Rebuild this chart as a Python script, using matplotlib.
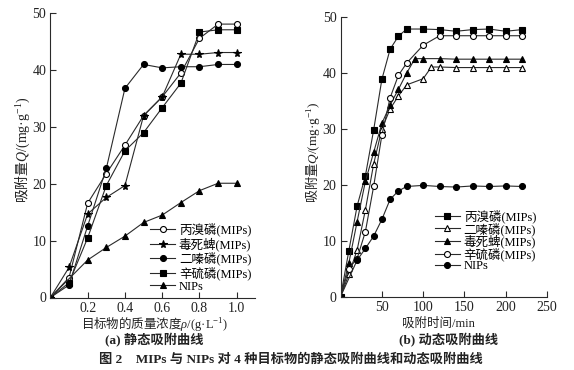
import numpy as np
import matplotlib
matplotlib.use("Agg")
import matplotlib.pyplot as plt

#-----------------------------------------------------------------------------
'''data (read from the figure)'''

# (a) static adsorption, x = mass concentration g/L
rho = [0, 0.1, 0.2, 0.3, 0.4, 0.5, 0.6, 0.7, 0.8, 0.9, 1.0]
q_profenofos_s = [0, 3.5, 16.6, 21.8, 26.8, 32.0, 35.3, 39.5, 45.6, 48.1, 48.1]
q_chlorpyrifos_s = [0, 5.3, 14.7, 17.6, 19.7, 32.0, 35.3, 42.8, 42.8, 43.1, 43.1]
q_diazinon_s = [0, 2.2, 12.6, 22.7, 36.8, 41.0, 40.4, 40.6, 40.6, 41.0, 41.0]
q_phoxim_s = [0, 2.6, 10.5, 19.7, 25.8, 29.0, 33.4, 37.7, 46.7, 47.1, 47.1]
rho_nips = [0, 0.2, 0.3, 0.4, 0.5, 0.6, 0.7, 0.8, 0.9, 1.0]
q_nips_s = [0, 6.6, 8.8, 10.8, 13.2, 14.5, 16.7, 18.8, 20.1, 20.1]

# (b) dynamic adsorption, x = time min
t_profenofos = [0, 10, 20, 30, 40, 50, 60, 70, 80, 100, 120, 140, 160, 180, 200, 220]
q_profenofos_d = [0, 8.2, 16.2, 21.6, 29.8, 38.9, 44.3, 46.6, 47.9, 47.9, 47.8, 47.5, 47.8, 47.9, 47.5, 47.8]
t_diazinon = [0, 10, 20, 30, 40, 50, 60, 70, 80, 100, 110, 120, 140, 160, 180, 200, 220]
q_diazinon_d = [0, 4.0, 8.3, 15.5, 23.7, 30.0, 33.6, 35.9, 37.9, 39.0, 41.1, 41.1, 41.0, 41.0, 41.0, 41.0, 41.0]
t_chlorpyrifos = [0, 10, 20, 30, 40, 50, 60, 70, 80, 90, 100, 120, 140, 160, 180, 200, 220]
q_chlorpyrifos_d = [0, 6.0, 13.4, 20.6, 25.8, 31.0, 34.3, 37.1, 40.0, 42.6, 42.6, 42.6, 42.5, 42.5, 42.5, 42.5, 42.5]
t_phoxim = [0, 10, 20, 30, 40, 50, 60, 70, 80, 100, 120, 140, 160, 180, 200, 220]
q_phoxim_d = [0, 5.0, 6.8, 11.6, 19.7, 28.9, 35.6, 39.6, 41.8, 45.0, 46.7, 46.7, 46.7, 46.7, 46.7, 46.7]
t_nips = [0, 20, 30, 40, 50, 60, 70, 80, 100, 120, 140, 160, 180, 200, 220]
q_nips_d = [0, 6.5, 8.6, 10.8, 13.8, 17.4, 18.9, 19.7, 19.9, 19.7, 19.6, 19.8, 19.7, 19.8, 19.7]

names = ["丙溴磷(MIPs)", "毒死蜱(MIPs)", "二嗪磷(MIPs)", "辛硫磷(MIPs)", "NIPs"]

#-----------------------------------------------------------------------------

plt.rcParams['font.family'] = ['Liberation Serif', 'Noto Sans CJK SC']
plt.rcParams['mathtext.fontset'] = 'custom'
plt.rcParams['mathtext.rm'] = 'Noto Sans CJK SC'
plt.rcParams['mathtext.it'] = 'Liberation Serif:italic'
plt.rcParams['xtick.direction'] = 'in'
plt.rcParams['ytick.direction'] = 'in'

fig = plt.figure(figsize=(5.74, 3.70), dpi=100)
W, H = 574.0, 370.0

lc = "#2a2a2a"
tc = "#222222"
kw = dict(color=lc, linewidth=0.8, markersize=4.3, markeredgecolor="black", markeredgewidth=0.8)


def style_axes(ax):
    ax.spines['top'].set_visible(False)
    ax.spines['right'].set_visible(False)
    for s in ('left', 'bottom'):
        ax.spines[s].set_color(lc)
        ax.spines[s].set_linewidth(0.8)
    ax.tick_params(length=4, width=0.8, color=lc, labelsize=10, labelcolor=tc, pad=3)
    ax.set_ylim(0, 50)
    ax.set_yticks(np.arange(0, 51, 10))


#-----------------------------------------------------------------------------
'''(a) static adsorption'''

ax1 = fig.add_axes([50.4 / W, 1 - 297.5 / H, 205 / W, 284.2 / H])
ax1.plot(rho, q_profenofos_s, "-o", markerfacecolor="white", label=names[0], **kw)
ax1.plot(rho, q_chlorpyrifos_s, "-*", markerfacecolor="black", label=names[1],
         **{**kw, 'markersize': 5.8})
ax1.plot(rho, q_diazinon_s, "-o", markerfacecolor="black", label=names[2], **kw)
ax1.plot(rho, q_phoxim_s, "-s", markerfacecolor="black", label=names[3], **kw)
ax1.plot(rho_nips, q_nips_s, "-^", markerfacecolor="black", label=names[4], **kw)
style_axes(ax1)
ax1.set_xlim(0, 1.1)
ax1.set_xticks([0.2, 0.4, 0.6, 0.8, 1.0])
ax1.set_xticklabels(["0.2", "0.4", "0.6", "0.8", "1.0"])
ax1.legend(loc="upper left", bbox_to_anchor=(0.486, 0.262), frameon=False, fontsize=9,
           borderpad=0, borderaxespad=0, handlelength=2.0, handletextpad=0.3,
           labelspacing=0.05)

#-----------------------------------------------------------------------------
'''(b) dynamic adsorption'''

ax2 = fig.add_axes([340.6 / W, 1 - 296.5 / H, 206.4 / W, 279.2 / H])
ax2.plot(t_profenofos, q_profenofos_d, "-s", markerfacecolor="black", label="丙溴磷(MIPs)", **kw)
ax2.plot(t_diazinon, q_diazinon_d, "-^", markerfacecolor="white", label="二嗪磷(MIPs)", **kw)
ax2.plot(t_chlorpyrifos, q_chlorpyrifos_d, "-^", markerfacecolor="black", label="毒死蜱(MIPs)", **kw)
ax2.plot(t_phoxim, q_phoxim_d, "-o", markerfacecolor="white", label="辛硫磷(MIPs)", **kw)
ax2.plot(t_nips, q_nips_d, "-o", markerfacecolor="black", label="NIPs", **kw)
style_axes(ax2)
ax2.set_xlim(0, 250)
ax2.set_xticks([50, 100, 150, 200, 250])
ax2.legend(loc="upper left", bbox_to_anchor=(0.457, 0.312), frameon=False, fontsize=9,
           borderpad=0, borderaxespad=0, handlelength=2.0, handletextpad=0.3,
           labelspacing=-0.08)

#-----------------------------------------------------------------------------
'''labels and caption'''

ylab = r'$\mathrm{吸附量}Q$/(mg·g$^{\mathdefault{-1}}$)'
fig.text(22 / W, 1 - 150 / H, ylab, rotation=90, ha="center", va="center", fontsize=10, color=tc)
fig.text(312 / W, 1 - 152 / H, ylab, rotation=90, ha="center", va="center", fontsize=9.5, color=tc)

fig.text(154 / W, 1 - 324 / H, r'$\mathrm{目标物的质量浓度}\rho$/(g·L$^{\mathdefault{-1}}$)',
         ha="center", va="center", fontsize=9, color=tc)
fig.text(438 / W, 1 - 324 / H, "吸附时间/min", ha="center", va="center", fontsize=9, color=tc)

fig.text(154 / W, 1 - 340 / H, "(a) 静态吸附曲线", ha="center", va="center", fontsize=9.5,
         fontweight="bold", color=tc)
fig.text(449 / W, 1 - 340 / H, "(b) 动态吸附曲线", ha="center", va="center", fontsize=9.5,
         fontweight="bold", color=tc)

fig.text(291 / W, 1 - 359 / H, "图 2    MIPs 与 NIPs 对 4 种目标物的静态吸附曲线和动态吸附曲线",
         ha="center", va="center", fontsize=9.5, fontweight="bold", color=tc)

plt.savefig("out.png", dpi=100)
